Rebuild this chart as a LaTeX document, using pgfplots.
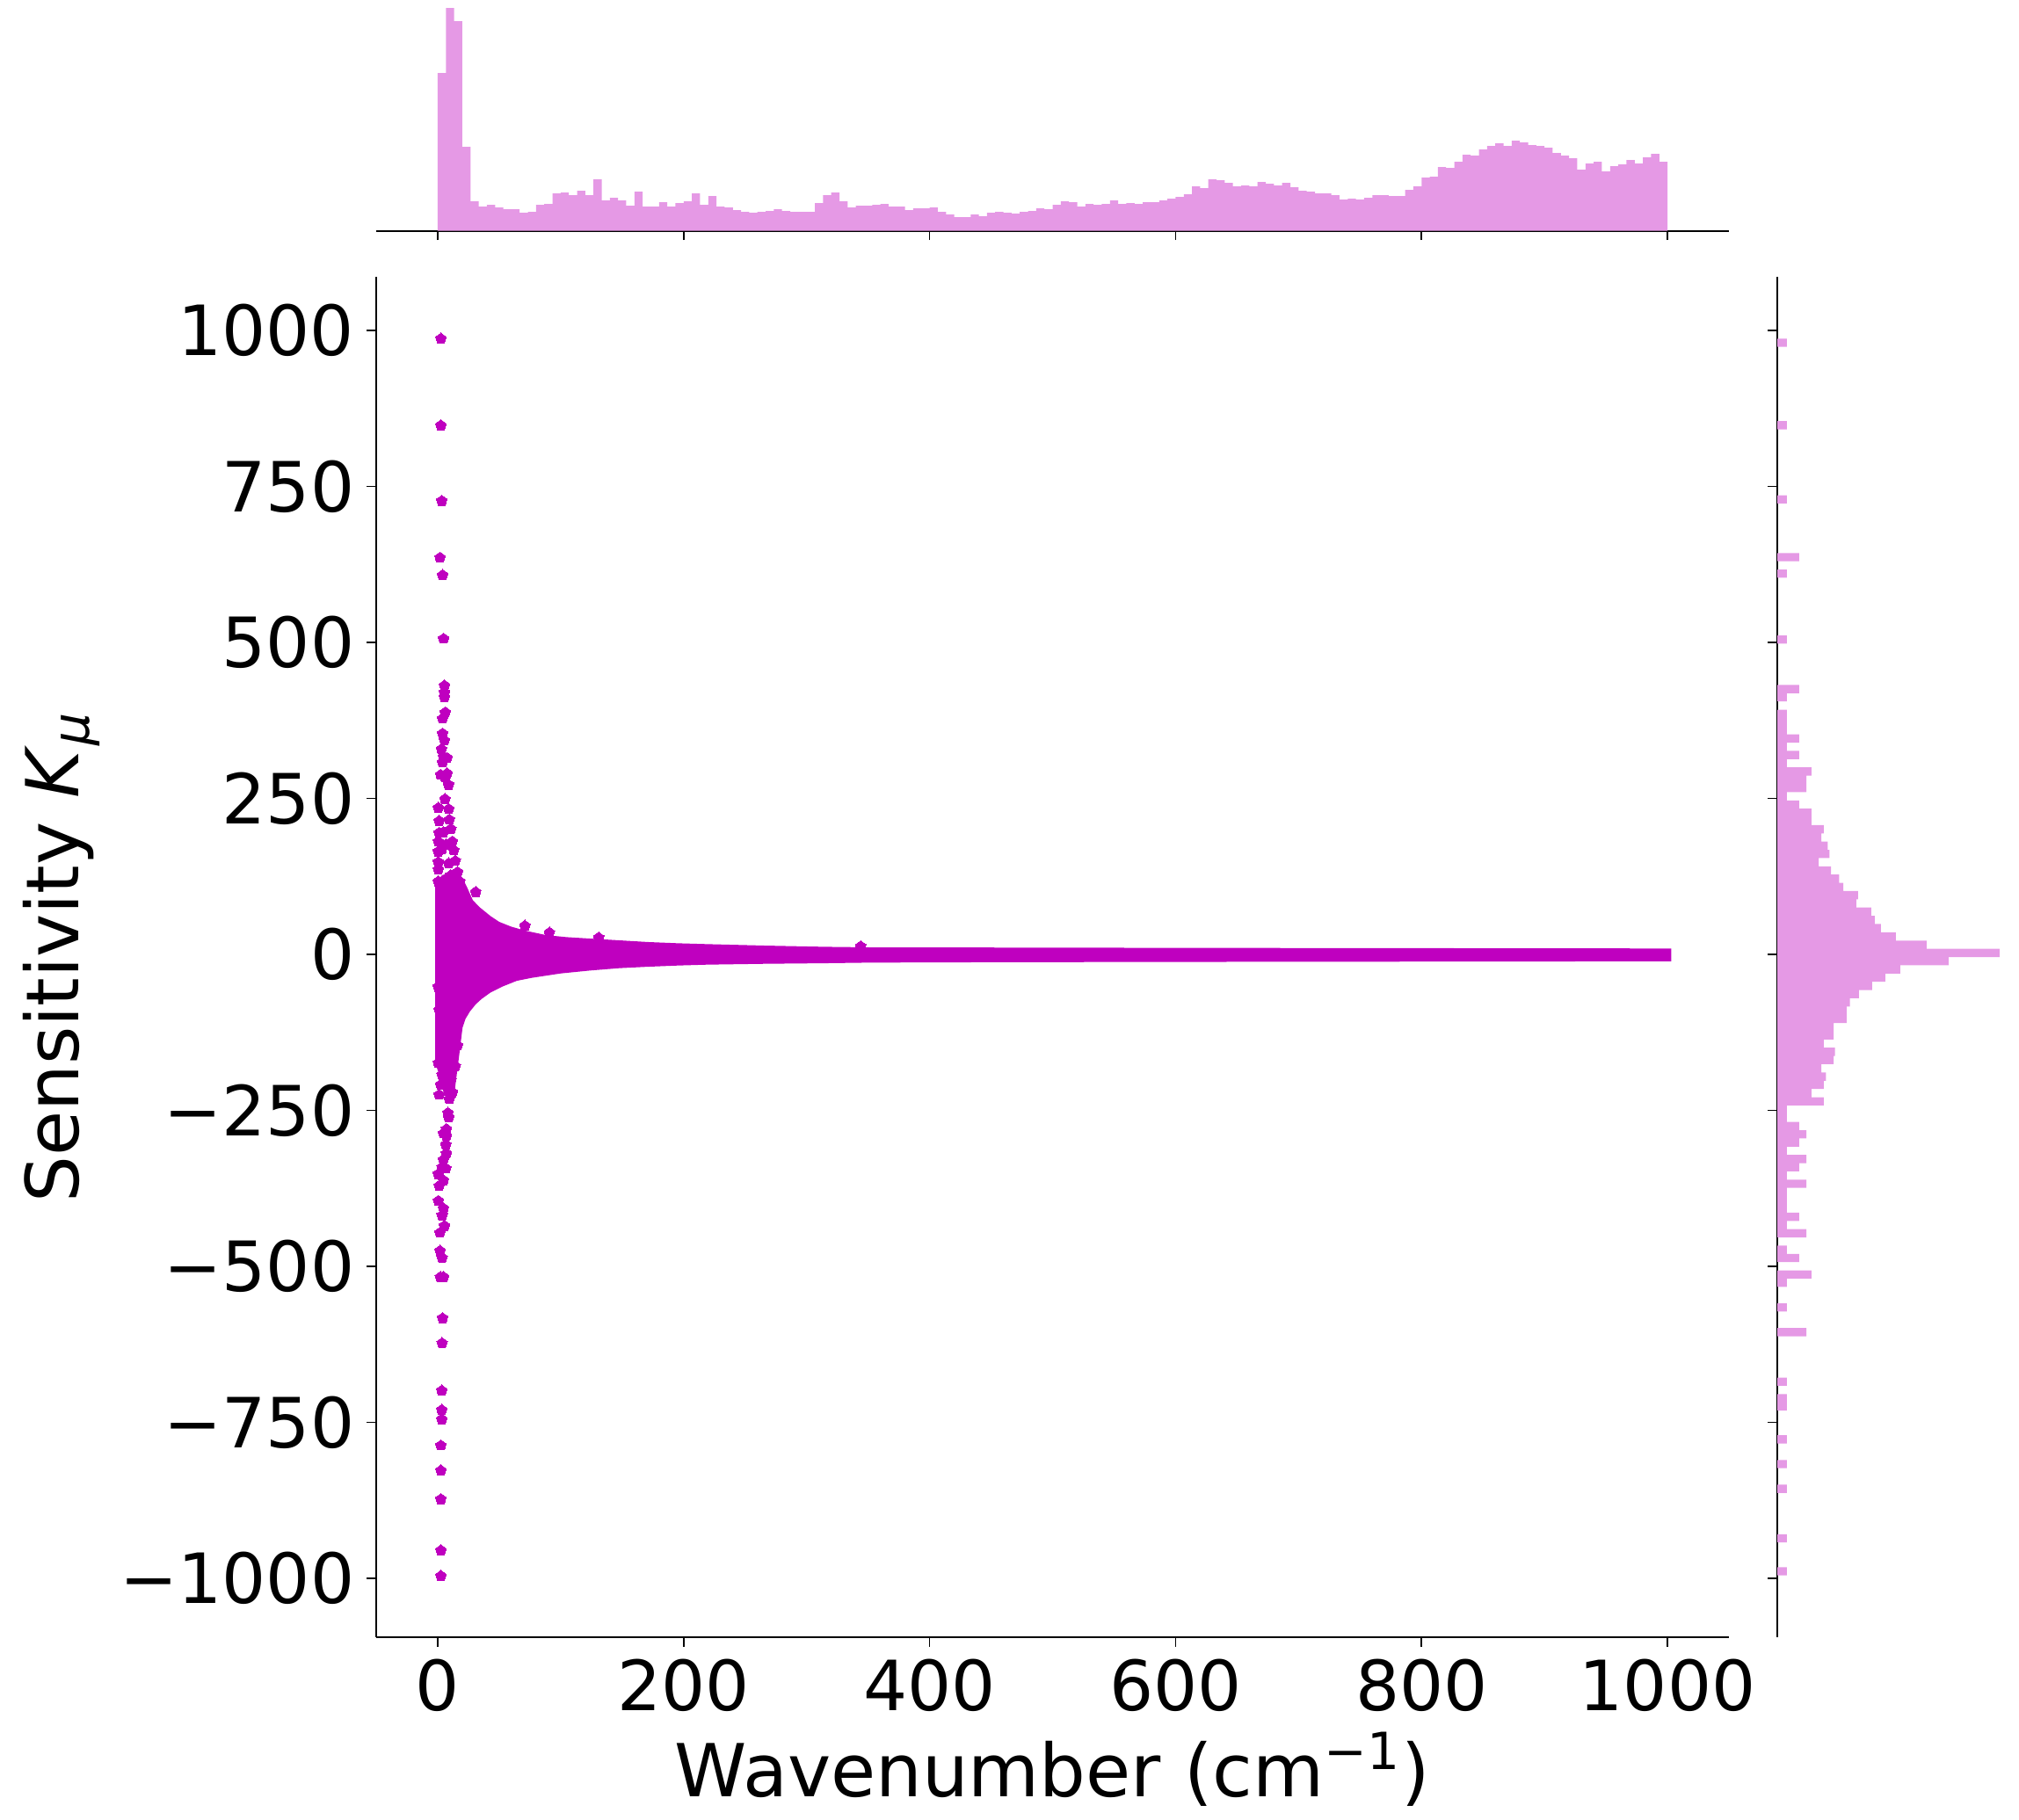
\documentclass[border=0pt]{standalone}
\usepackage{fontspec}
\setmainfont{DejaVu Sans}
\usepackage{pgfplots}
\pgfplotsset{compat=1.18}
\usetikzlibrary{plotmarks}
\definecolor{magm}{RGB}{191,0,191}
\definecolor{histm}{RGB}{229,153,229}

% 1 px of the reference = 0.25pt
\pgfplotsset{
  jointaxis/.style={
    scale only axis,
    axis line style={line width=0.5pt},
    tick align=outside, major tick length=2.67pt,
    tick style={black, line width=0.42pt},
  },
}

\begin{document}
\begin{tikzpicture}
\useasboundingbox (0pt,0pt) rectangle (574.25pt,-517.5pt);

% ---- main scatter ----
\begin{axis}[jointaxis,
  width=384.75pt, height=387pt,
  at={(107pt,-465.75pt)}, anchor=south west,
  xmin=-50, xmax=1050, ymin=-1094.4, ymax=1086,
  axis x line*=bottom, axis y line*=left,
  xtick={0,200,400,600,800,1000}, xticklabels={0,200,400,600,800,1000},
  ytick={-1000,-750,-500,-250,0,250,500,750,1000},
  yticklabels={−1000,−750,−500,−250,0,250,500,750,1000},
  tick label style={font=\fontsize{19.7}{23}\selectfont},
  xlabel={Wavenumber (cm\textsuperscript{−1})},
  ylabel={Sensitivity \textit{K}\textsubscript{\textit{μ}}},
  label style={font=\fontsize{20.8}{25}\selectfont},
  xlabel style={at={(axis description cs:0.5,-0.1169)}, anchor=base},
  ylabel style={at={(axis description cs:-0.22,0.5)}, anchor=base},
]
% dense band (visible outline)
\addplot[draw=none, fill=magm] coordinates {
  (-2,112.8) (3.5,127) (11.9,131.6) (20.2,122) (23.8,108) (28.6,86.8)
  (34.5,75) (42.9,61.6) (50,52.2) (59.5,44.7) (71.4,38) (88.1,31)
  (104.7,27.7) (123.8,25.4) (147.6,22.6) (171.4,19.8) (195.2,17.9)
  (219,16.5) (266.7,14.1) (314.3,12.2) (352.4,11.3) (450,11) (600,10.5)
  (800,10) (1003,9.5) (1003,-11) (800,-11.5) (600,-12) (450,-12.5)
  (352.4,-13.1) (314.3,-14.1) (266.7,-15) (219,-16.4) (195.2,-17.8)
  (171.4,-19.7) (147.6,-22) (123.8,-25.8) (100,-30.5) (76.2,-37.6)
  (64.3,-42.3) (52.4,-51.7) (42.9,-61.1) (35.7,-71.4) (31,-79.8)
  (26.2,-91.5) (22.6,-103.3) (20.2,-117.4) (17.9,-155) (16.1,-183.2)
  (14.3,-211.4) (13.1,-234.9) (8.3,-237.3) (4.7,-220.8) (1.2,-192.6)
  (-2,-173.8) (-2,-37.6)
} -- cycle;
% individual points
\addplot[only marks, mark=pentagon*, mark size=1.6pt, color=magm,
  mark options={draw=magm, fill=magm, line width=0pt}] coordinates {
  (2.6,987) (2.6,848) (3.3,727) (1.9,636) (4.0,608) (4.8,506) (5.5,431)
  (5.5,420) (5.5,412) (6.2,388) (4.0,378) (4.0,354) (5.5,343)
  (3.1,329) (4.7,317) (7.6,315) (4.0,308) (2.4,288) (7.6,290) (5.9,284)
  (8.8,272) (5.9,249) (0.5,235) (9.0,233) (1.2,214) (9.5,216) (1.2,195)
  (4.7,196) (10.7,201) (0.5,181) (6.6,176) (11.9,181) (0.5,165) (3.5,169)
  (13.1,167) (0.5,148) (9.0,146) (14.3,150) (0.5,136) (10.7,127)
  (16.1,132) (4.7,115) (0.5,117) (13.1,112) (17.9,117)
  (30.9,100) (70.9,46) (90.9,35) (130.9,27) (344,13)
  (2.4,-35) (0.5,-52) (9.5,-48) (4.7,-80) (1.2,-89) (16.1,-84) (18.5,-70)
  (11.9,-103) (9.5,-117) (3.5,-122) (15.5,-117) (2.4,-136) (11.9,-136)
  (4.7,-151) (16.1,-146) (0.5,-174) (9.5,-165) (14.3,-179) (3.5,-193)
  (10.7,-188) (2.4,-209) (10.7,-202) (11.9,-221) (1.2,-225) (9.5,-232)
  (8.3,-254) (9.0,-261) (7.1,-280) (4.7,-287) (7.1,-291) (6.6,-305)
  (7.1,-319) (4.7,-329) (3.5,-341) (6.6,-343) (0.5,-352) (4.7,-362)
  (1.2,-371) (0.5,-395)
  (4.7,-407) (3.6,-418) (5.5,-435) (1.9,-446) (1.9,-475) (3.6,-486)
  (2.2,-517) (4.7,-517) (4.0,-583) (3.6,-623) (3.3,-699) (3.3,-730)
  (3.3,-745) (2.6,-787) (2.6,-827) (2.6,-873) (2.6,-955) (2.6,-996)
};
\end{axis}

% ---- top marginal histogram (wavenumber) ----
\begin{axis}[jointaxis,
  width=384.75pt, height=66.25pt,
  at={(107pt,-65.675pt)}, anchor=south west,
  xmin=-50, xmax=1050, ymin=0, ymax=795,
  axis x line*=bottom, axis y line=none,
  xtick={0,200,400,600,800,1000}, xticklabels={},
  ytick=\empty,
]
\addplot[ybar, bar width=6.6667, bar shift=0pt, fill=histm, draw=none] coordinates {
  (3.33,539) (10,761) (16.67,716) (23.33,287) (30,101) (36.67,83)
  (43.33,89) (50,80) (56.67,74) (63.33,74) (70,62) (76.67,65)
  (83.33,89) (90,92) (96.67,128) (103.33,131) (110,122) (116.67,137)
  (123.33,122) (130,176) (136.67,104) (143.33,113) (150,104) (156.67,86)
  (163.33,134) (170,83) (176.67,83) (183.33,98) (190,83) (196.67,95)
  (203.33,101) (210,128) (216.67,89) (223.33,119) (230,83) (236.67,80)
  (243.33,71) (250,65) (256.67,62) (263.33,65) (270,68) (276.67,74)
  (283.33,68) (290,65) (296.67,65) (303.33,65) (310,95) (316.67,122)
  (323.33,131) (330,101) (336.67,80) (343.33,86) (350,86) (356.67,89)
  (363.33,92) (370,83) (376.67,83) (383.33,71) (390,77) (396.67,77)
  (403.33,80) (410,65) (416.67,56) (423.33,47) (430,47) (436.67,56)
  (443.33,50) (450,62) (456.67,65) (463.33,62) (470,59) (476.67,65)
  (483.33,68) (490,77) (496.67,74) (503.33,89) (510,101) (516.67,98)
  (523.33,83) (530,92) (536.67,89) (543.33,92) (550,104) (556.67,92)
  (563.33,95) (570,92) (576.67,98) (583.33,98) (590,104) (596.67,110)
  (603.33,116) (610,125) (616.67,152) (623.33,146) (630,176) (636.67,173)
  (643.33,164) (650,152) (656.67,155) (663.33,152) (670,167) (676.67,161)
  (683.33,155) (690,164) (696.67,149) (703.33,137) (710,134) (716.67,128)
  (723.33,128) (730,122) (736.67,107) (743.33,110) (750,107) (756.67,113)
  (763.33,122) (770,122) (776.67,119) (783.33,119) (790,140) (796.67,152)
  (803.33,182) (810,185) (816.67,218) (823.33,215) (830,236) (836.67,260)
  (843.33,257) (850,278) (856.67,290) (863.33,299) (870,290) (876.67,308)
  (883.33,302) (890,293) (896.67,290) (903.33,284) (910,266) (916.67,257)
  (923.33,248) (930,209) (936.67,230) (943.33,236) (950,203) (956.67,221)
  (963.33,227) (970,242) (976.67,230) (983.33,251) (990,263) (996.67,236)
};
\end{axis}

% ---- right marginal histogram (sensitivity), log counts ----
\begin{axis}[jointaxis,
  width=66.25pt, height=387pt,
  at={(505.5pt,-465.75pt)}, anchor=south west,
  xmode=log, xmin=0.585, xmax=2.92e5, ymin=-1094.4, ymax=1086,
  log origin x=infty,
  axis y line*=left, axis x line=none,
  ytick={-1000,-750,-500,-250,0,250,500,750,1000}, yticklabels={},
  xtick=\empty, minor xtick={},
]
\addplot[xbar, bar width=13.215, bar shift=0pt, fill=histm, draw=none] coordinates {
  (1,-988.69) (1,-935.83) (1,-856.54) (1,-816.90) (1,-777.25) (1,-724.39)
  (1,-711.18) (1,-684.75) (3,-605.45) (1,-565.81) (1,-526.17) (4,-512.95)
  (2,-486.52) (1,-473.31) (3,-446.88) (1,-433.66) (2,-420.45) (1,-407.23)
  (1,-394.02) (1,-380.80) (3,-367.59) (1,-354.37) (2,-341.16) (3,-327.94)
  (1,-314.73) (2,-301.51) (3,-288.30) (2,-275.08) (1,-261.87) (1,-248.65)
  (8,-235.44) (4,-222.22) (8,-209.01) (9,-195.79) (7,-182.58) (14,-169.36)
  (15,-156.15) (8,-142.93) (14,-129.72) (14,-116.50) (29,-103.29) (29,-90.07)
  (35,-76.86) (58,-63.64) (122,-50.43) (256,-37.21) (594,-24.00)
  (9060,-10.78) (160000,2.43) (2626,15.65) (464,28.86) (200,42.08)
  (141,55.29) (116,68.51) (50,81.72) (55,94.94) (24,108.15) (19,121.37)
  (12,134.58) (6,147.80) (11,161.01) (10,174.23) (7,187.44) (8,200.66)
  (4,213.87) (4,227.09) (2,240.30) (1,253.52) (3,266.73) (3,279.95)
  (4,293.16) (1,306.38) (2,319.59) (1,332.81) (2,346.02) (1,359.24)
  (1,372.45) (1,385.67) (1,412.10) (2,425.31) (1,504.60) (1,610.32)
  (2,636.75) (1,729.26) (1,848.19) (1,980.34)
};
\end{axis}
\end{tikzpicture}
\end{document}
